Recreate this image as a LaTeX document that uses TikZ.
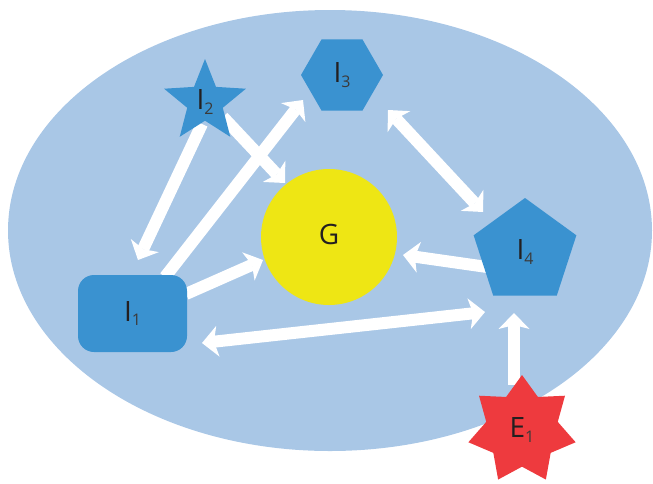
\documentclass[tikz,border=0pt]{standalone}
\usepackage{fontspec}
\setmainfont{Open Sans}
\usetikzlibrary{shapes.geometric,arrows.meta}
\definecolor{ground}{HTML}{A9C7E6}
\definecolor{agent}{HTML}{3A92D0}
\definecolor{goal}{HTML}{EEE614}
\definecolor{extern}{HTML}{EE3A3E}
\definecolor{ink}{HTML}{231F20}
\definecolor{subink}{HTML}{3A3A3A}
\pgfdeclarelayer{bg}
\pgfdeclarelayer{links}
\pgfsetlayers{bg,links,main}
% letter with a lowered index
\newcommand\idxlabel[2]{{\fontsize{28}{28}\selectfont\color{ink}#1}\raisebox{-4.5pt}{\fontsize{16}{16}\selectfont\color{subink}#2}}
\begin{document}
\begin{tikzpicture}[x=1pt,y=-1pt,
  shp/.style={fill=agent, draw=none, inner sep=0pt},
  conn/.style={draw=white, line width=12pt,
    -{Stealth[length=16pt,width=31pt,inset=4pt,line width=0pt]}},
  both/.style={draw=white, line width=12pt,
    {Stealth[length=16pt,width=31pt,inset=4pt,line width=0pt]}-{Stealth[length=16pt,width=31pt,inset=4pt,line width=0pt]}}]
\useasboundingbox (0,0) rectangle (653,483);
\begin{pgfonlayer}{bg}
  \fill[ground] (330,230.5) ellipse [x radius=322, y radius=220.5];
\end{pgfonlayer}

\node[shp, star, star points=5, star point ratio=2.3, minimum size=86pt] (i2) at (205,102) {\idxlabel{I}{2}};
\node[shp, regular polygon, regular polygon sides=6, minimum size=82pt] (i3) at (342,75) {\idxlabel{I}{3}};
\node[shp, circle, fill=goal, minimum size=136pt] (g) at (329,237) {\idxlabel{G}{}};
\node[shp, rectangle, rounded corners=16pt, minimum width=109pt, minimum height=77pt] (i1) at (132.5,313.5) {\idxlabel{I}{1}};
\node[shp, regular polygon, regular polygon sides=5, minimum size=108pt] (i4) at (525,252) {\idxlabel{I}{4}};
\node[shp, star, star points=7, star point ratio=1.5, fill=extern, minimum size=110pt] (e1) at (522,430) {\idxlabel{E}{1}};

\begin{pgfonlayer}{links}
  \draw[conn] ([shift={(-3,22)}]i2.center) -- ([shift={(5.5,-53.5)}]i1.center);
  \draw[conn] ([shift={(18,15)}]i2.center) -- ([shift={(-44,-54)}]g.center);
  \draw[conn] ([shift={(32.5,-36.5)}]i1.center) -- ([shift={(-39,25)}]i3.center);
  \draw[conn] ([shift={(53.5,-19.5)}]i1.center) -- ([shift={(-66,23)}]g.center);
  \draw[both] ([shift={(46,35)}]i3.center) -- ([shift={(-42,-40)}]i4.center);
  \draw[conn] ([shift={(-38,15)}]i4.center) -- ([shift={(74,18)}]g.center);
  \draw[both] ([shift={(69.5,29.5)}]i1.center) -- ([shift={(-40,60)}]i4.center);
  \draw[conn] ([shift={(-8,-45)}]e1.center) -- ([shift={(-11,61)}]i4.center);
\end{pgfonlayer}
\end{tikzpicture}
\end{document}
